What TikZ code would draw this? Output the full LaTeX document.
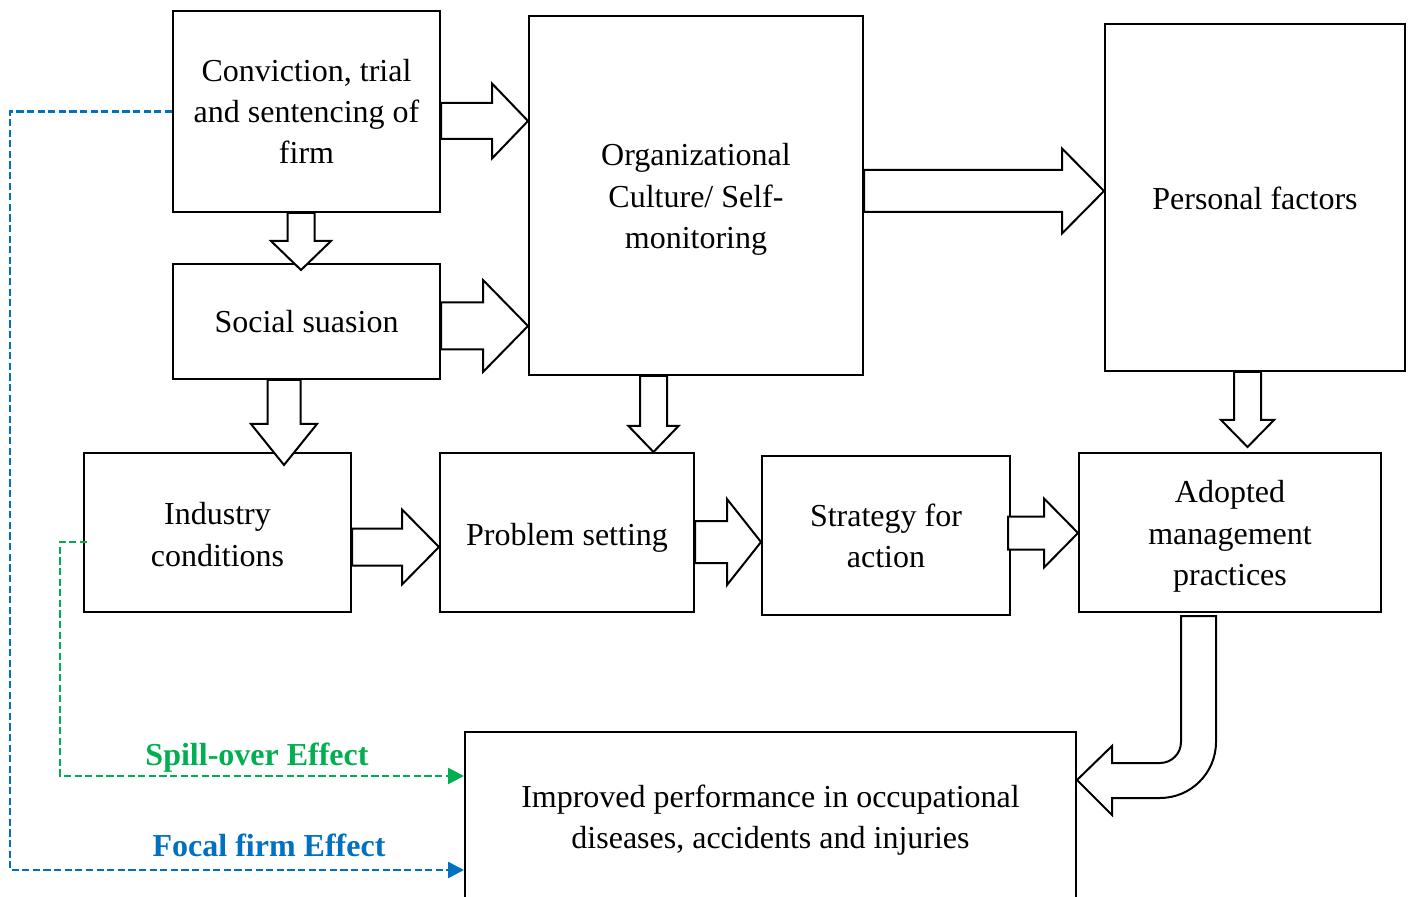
\documentclass[tikz,border=0pt]{standalone}
\usepackage{fontspec}
\setmainfont{Liberation Serif}
\usetikzlibrary{arrows.meta,calc}
\definecolor{spillgreen}{HTML}{00B050}
\definecolor{focalblue}{HTML}{0070C0}
\newcommand\boxfont{\fontsize{16pt}{20.6pt}\selectfont}
% block arrow pointing right: tail anchor, tip point, shaft half-width, head half-width, head length
\newcommand\rblock[5]{%
  \filldraw[blk] (#2) -- ++(-#5,-#4) -- ++(0,#4-#3) coordinate (bt) -- (bt -| #1)
    -- ++(0,2*#3) coordinate (bb) -- (bb -| bt) -- ++(0,#4-#3) -- cycle;}
% block arrow pointing down: tail anchor, tip point, shaft half-width, head half-width, head length
\newcommand\dblock[5]{%
  \filldraw[blk] (#2) -- ++(-#4,-#5) -- ++(#4-#3,0) coordinate (bt) -- (bt |- #1)
    -- ++(2*#3,0) coordinate (bb) -- (bb |- bt) -- ++(#4-#3,0) -- cycle;}
\tikzset{
  box/.style={draw, line width=1pt, inner sep=0pt},
  txt/.style={font=\boxfont, align=center, inner sep=0pt},
  blk/.style={draw=black, fill=white, line width=1pt, line join=miter},
  effect/.style={line width=1.25pt, dash pattern=on 3.6pt off 1.7pt,
    -{Triangle[length=8pt,width=8pt]}},
  lab/.style={font=\boxfont\bfseries, inner sep=0pt, anchor=base}
}
\begin{document}
\begin{tikzpicture}[x=0.5pt,y=-0.5pt]
\clip (0,0) rectangle (1412,897);
\fill[white] (0,0) rectangle (1412,897);

% boxes, each with its text centred inside
\node[box, minimum width=133.5pt, minimum height=100.5pt,
  label={[txt]center:{Conviction, trial\\and sentencing of\\firm}}] (conv) at (306.5,111.5) {};
\node[box, minimum width=133.5pt, minimum height=57.5pt,
  label={[txt]center:{Social suasion}}] (soc) at (306.5,321.5) {};
\node[box, minimum width=167pt, minimum height=179.5pt,
  label={[txt, yshift=-2pt]center:{Organizational\\Culture/ Self-\\monitoring}}] (org) at (696,195.5) {};
\node[box, minimum width=150pt, minimum height=173.5pt,
  label={[txt, yshift=-0.5pt]center:{Personal factors}}] (pers) at (1255,197.5) {};
\node[box, minimum width=133.5pt, minimum height=79.5pt,
  label={[txt, yshift=-1pt]center:{Industry\\conditions}}] (ind) at (217.5,532.5) {};
\node[box, minimum width=127pt, minimum height=79.5pt,
  label={[txt, yshift=-2.5pt]center:{Problem setting}}] (prob) at (567,532.5) {};
\node[box, minimum width=124pt, minimum height=79.5pt,
  label={[txt, yshift=-0.3pt]center:{Strategy for\\action}}] (strat) at (886,535.5) {};
\node[box, minimum width=151pt, minimum height=79.5pt,
  label={[txt, yshift=-2pt]center:{Adopted\\management\\practices}}] (adopt) at (1230,532.5) {};
\node[box, minimum width=305.5pt, minimum height=84pt,
  label={[txt, yshift=-2pt]center:{Improved performance in occupational\\diseases, accidents and injuries}}] (imp) at (770.5,816) {};

% block arrows
\rblock{conv.east}{org.west |- 0,121}{18}{37.5}{36}
\rblock{soc.east}{org.west |- 0,326}{23.5}{46}{45}
\rblock{org.east}{pers.west |- 0,191}{21}{42.5}{42}
\rblock{ind.east}{prob.west |- 0,547}{18.5}{37.5}{37}
\rblock{prob.east}{strat.west |- 0,542}{21}{43}{34}
\coordinate (stail) at ([xshift=-1.5pt]strat.east);
\rblock{stail}{adopt.west |- 0,533}{16.5}{34.5}{34}
\dblock{conv.south}{301,270}{13.5}{30}{29}
\dblock{soc.south}{284,465}{16.5}{33}{41}
\dblock{org.south}{prob.north -| 653.5,0}{13.5}{25}{26}
\dblock{pers.south}{1247.5,447}{13.5}{26.5}{27}

% bent arrow from the adopted practices down and round into the results box
\coordinate (ctip) at (imp.east |- 0,780);
\filldraw[blk] (1181,616) -- (1216,616) -- (1216,742)
  .. controls (1216,772.9) and (1190.9,798) .. (1160,798)
  -- (1112,798) -- (1112,815) -- (ctip) -- (1112,746) -- (1112,763) -- (1160,763)
  .. controls (1171.6,763) and (1181,753.6) .. (1181,742) -- cycle;

% effect paths
\coordinate (fcorner) at (10,870);
\draw[effect, focalblue] (conv.west) -| (fcorner) -- (imp.west |- fcorner);
\coordinate (gstart) at (87,542);
\coordinate (gcorner) at (60,776);
\draw[effect, spillgreen] (gstart) -| (gcorner) -- (imp.west |- gcorner);
\node[lab, text=spillgreen] (spilllab) at (257,765) {Spill-over Effect};
\node[lab, text=focalblue] (focallab) at (269,856) {Focal firm Effect};
\end{tikzpicture}
\end{document}
